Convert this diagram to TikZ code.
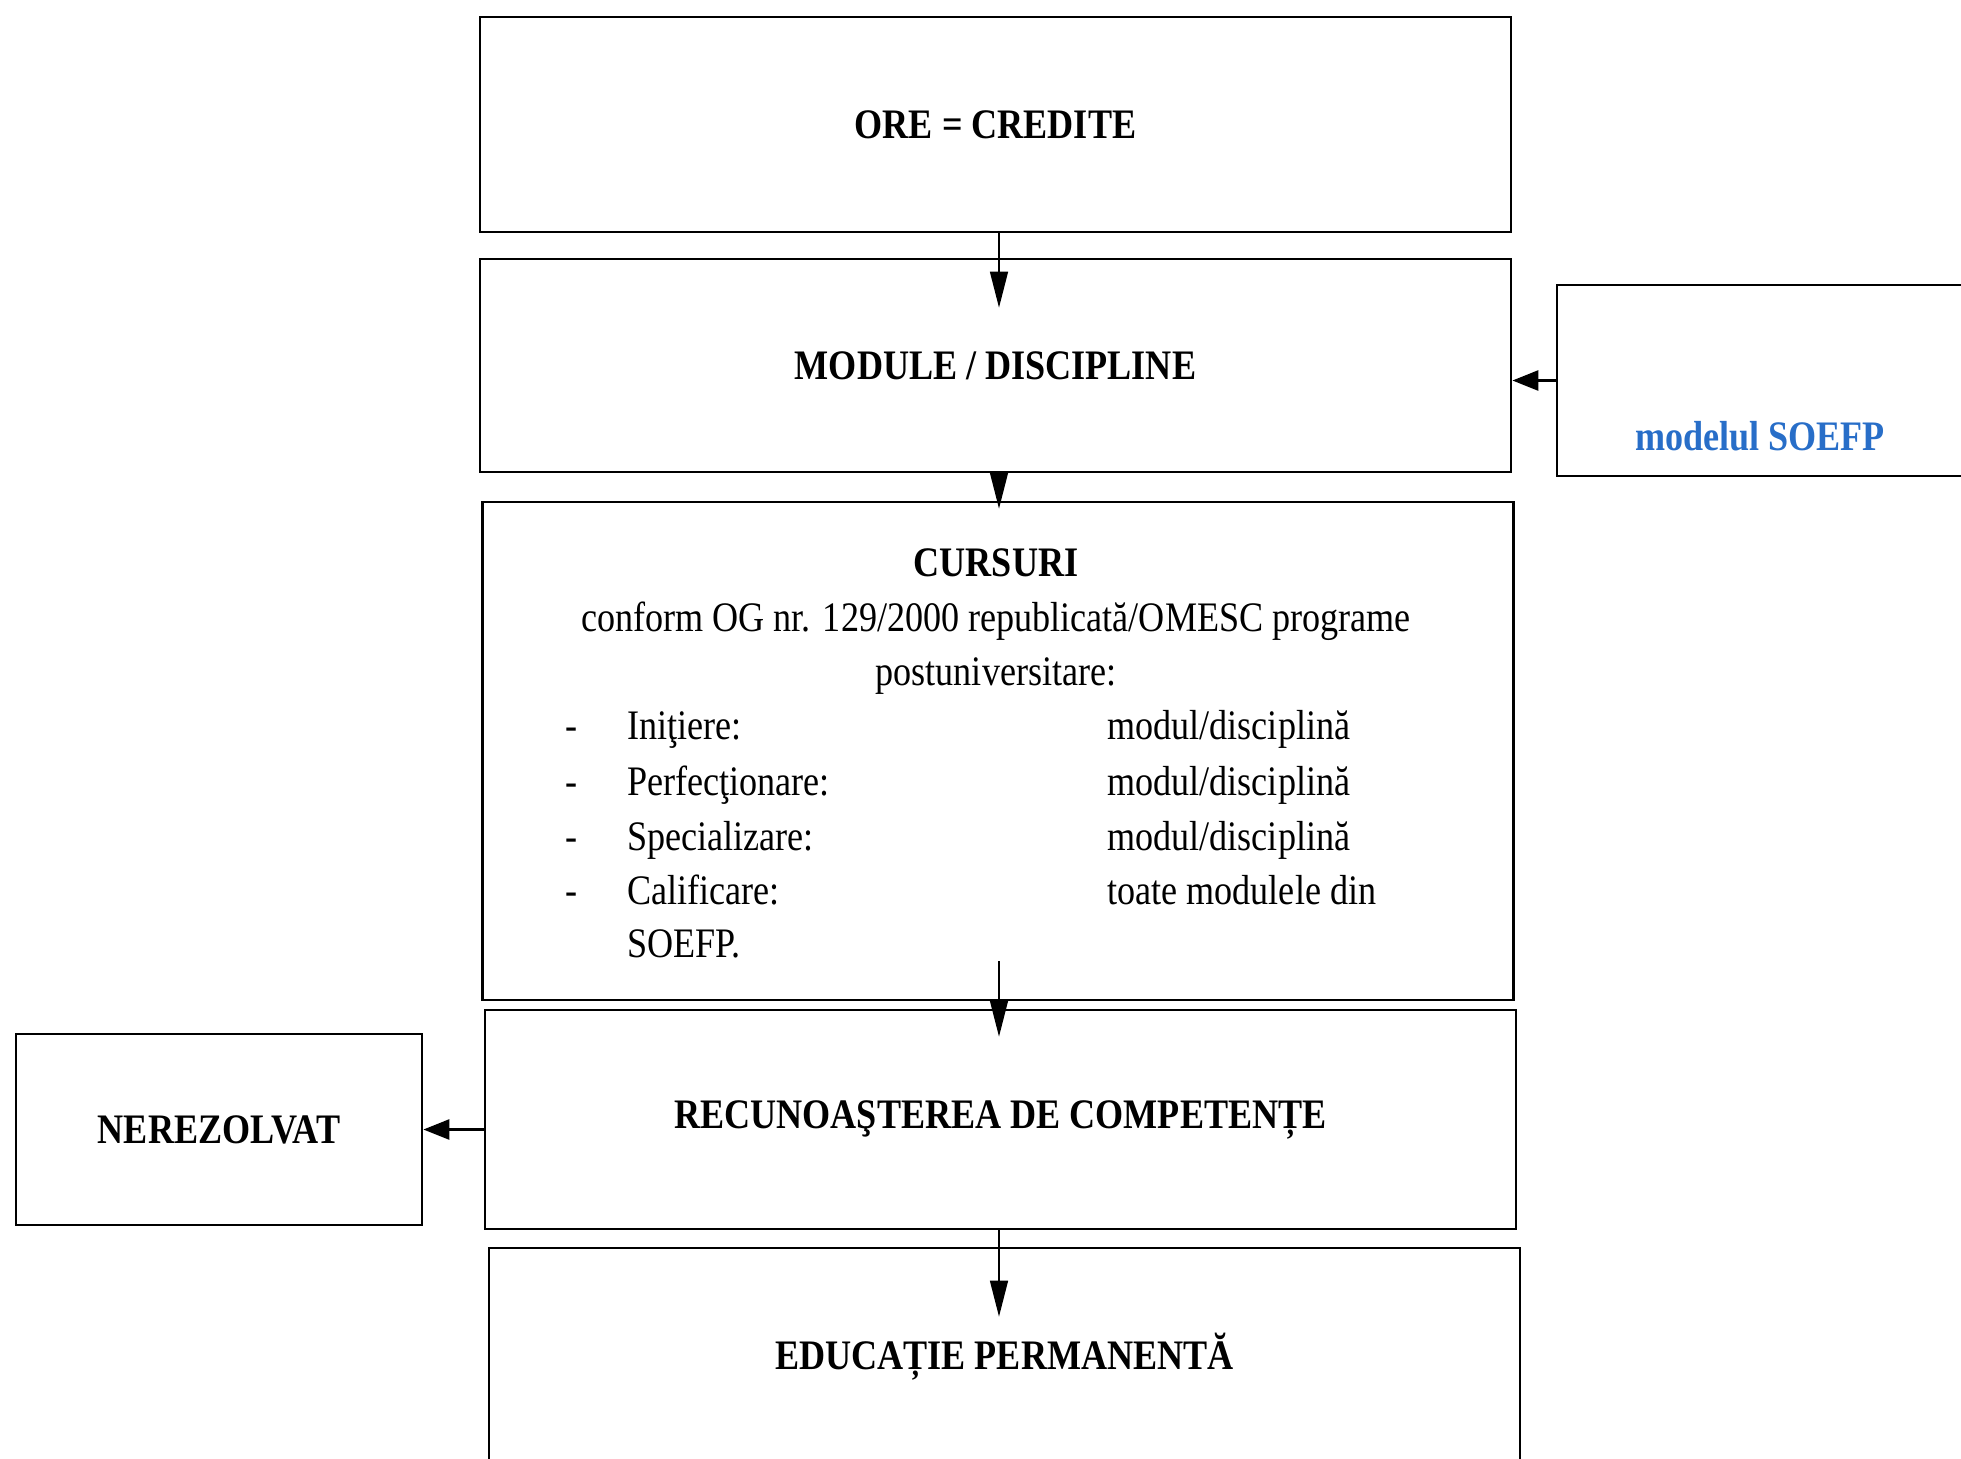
\documentclass[tikz,border=0pt]{standalone}
\usepackage{fontspec}
\setmainfont{Liberation Serif}[FakeStretch=0.86]
\usetikzlibrary{arrows.meta}
\definecolor{soefpblue}{RGB}{40,110,200}
\newcommand\moddisc{modul/disciplină}
\tikzset{
  box/.style={draw,line width=1.4pt,minimum width=515.5pt,font=\bfseries\fontsize{21}{25}\selectfont},
  txt/.style={inner sep=0pt,text height=1.5ex,text depth=.25ex,yshift=-5pt,font=\fontsize{21}{25}\selectfont},
  arr/.style={-{Triangle[length=18pt,width=9pt]},line width=0.8pt},
  harr/.style={-{Triangle[length=13pt,width=10pt]},line width=1.4pt}
}
\begin{document}
\begin{tikzpicture}[x=0.5pt,y=-0.5pt]
\useasboundingbox (0,0) rectangle (1961,1458);
\clip (0,0) rectangle (1961,1458);
\node[box,minimum height=107.5pt] (ore) at (995.5,124.5) {ORE = CREDITE};
\node[box,minimum height=106.5pt] (modul) at (995.5,365.5) {MODULE / DISCIPLINE};
\node[box,minimum height=249pt] (cursuri) at (998,751) {};
\node[box,minimum height=109.5pt] (recun) at (1000.5,1119.5) {RECUNOAŞTEREA DE COMPETENȚE};
\node[box,minimum height=109pt] (educ) at (1004.5,1357) {EDUCAȚIE PERMANENTĂ};
\node[box,minimum width=203pt,minimum height=95.5pt] (nerez) at (219,1129.5) {NEREZOLVAT};
\node[box,minimum width=220pt,minimum height=95.5pt] (soefp) at (1777,380.5) {};
\node[txt,font=\bfseries\fontsize{21}{25}\selectfont,text=soefpblue] (soefplbl) at (1760,435) {modelul SOEFP};
\node[txt,font=\bfseries\fontsize{21}{25}\selectfont] (cursuritlu) at (996,561) {CURSURI};
\node[txt] (conform) at (996,616) {conform OG nr. 129/2000 republicată/OMESC programe};
\node[txt] (postuniv) at (996,670) {postuniversitare:};
\foreach \y/\a/\b [count=\i] in {724/Iniţiere:/\moddisc, 780/Perfecţionare:/\moddisc, 835/Specializare:/\moddisc, 889/Calificare:/toate modulele din}{
  \node[txt] (dash\i) at (572,\y) {-};
  \node[txt,anchor=west] (tip\i) at (627,\y) {\a};
  \node[txt,anchor=west] (desc\i) at (1107,\y) {\b};
}
\node[txt,anchor=west] (soefpend) at (627,942) {SOEFP.};
\coordinate (axa) at (999,0);
\draw[arr] (axa |- ore.south) -- ([yshift=-25pt]axa |- modul.north);
\draw[arr] (axa |- modul.south) -- ([yshift=-4pt]axa |- cursuri.north);
\draw[arr] ([yshift=20pt]axa |- cursuri.south) -- ([yshift=-14pt]axa |- recun.north);
\draw[arr] (axa |- recun.south) -- ([yshift=-35pt]axa |- educ.north);
\draw[harr] (soefp.west) -- (modul.east |- soefp.west);
\draw[harr] (recun.west |- nerez.east) -- (nerez.east);
\end{tikzpicture}
\end{document}
